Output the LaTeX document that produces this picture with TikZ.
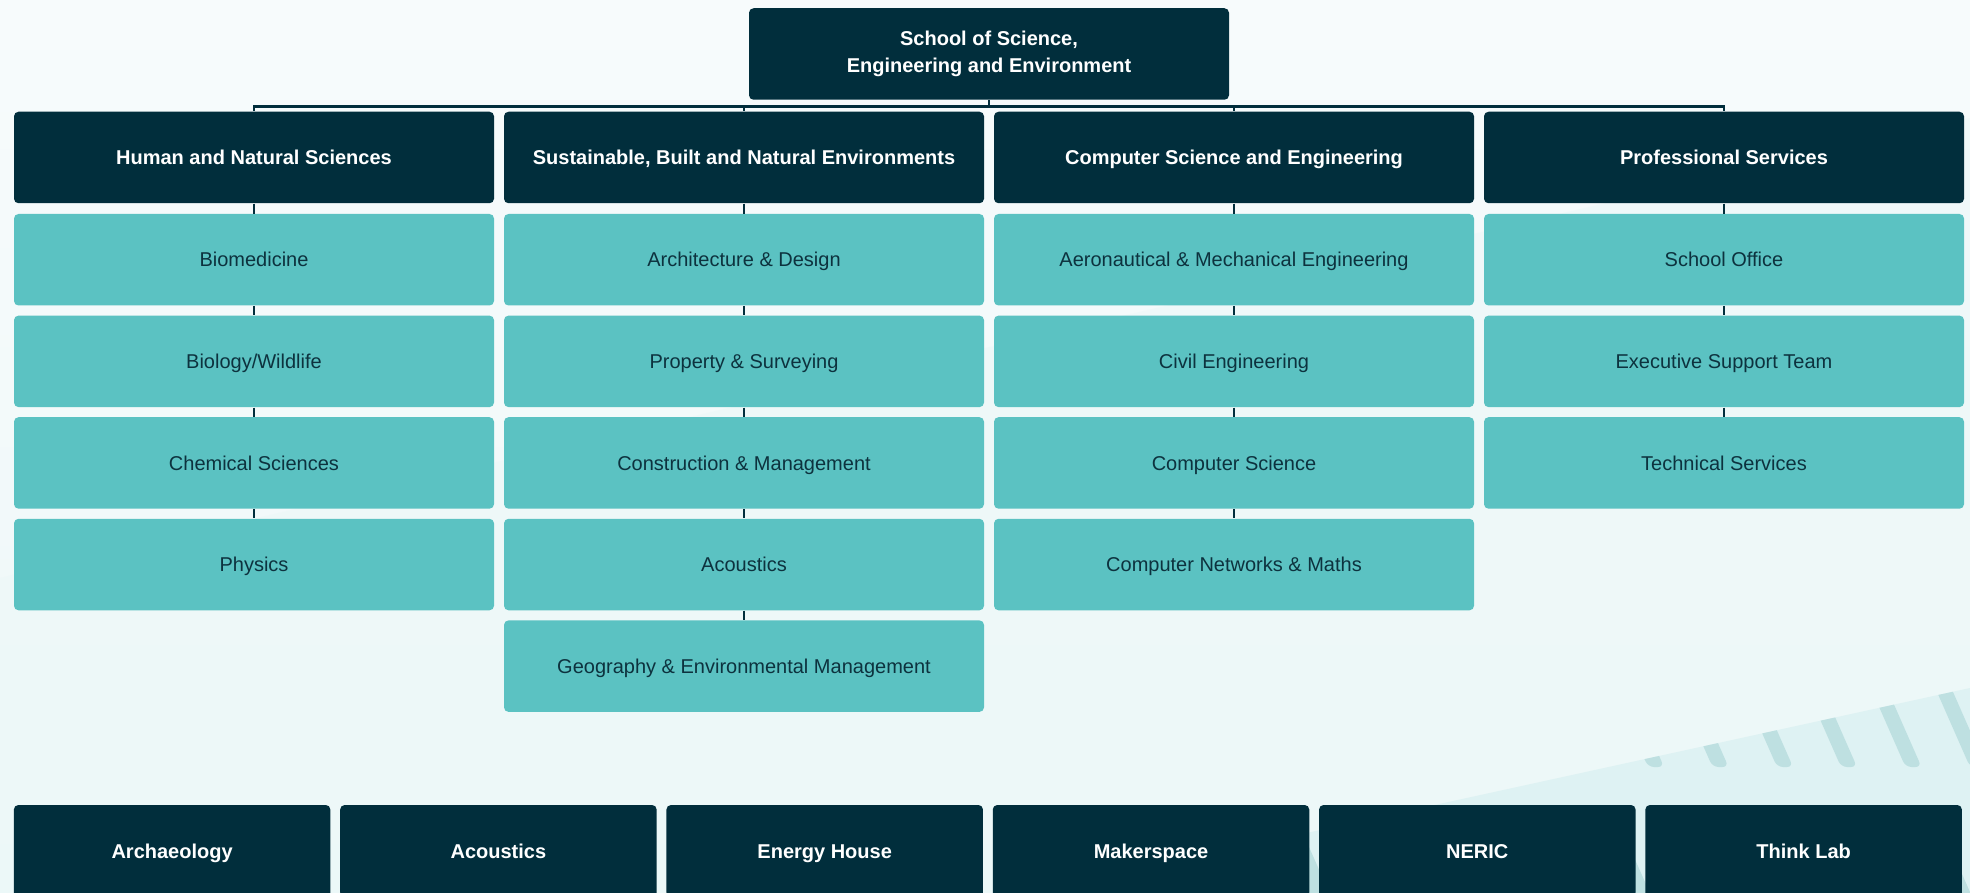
\documentclass[tikz,border=0pt]{standalone}
\usepackage{fontspec}
\setmainfont{Liberation Sans}
\definecolor{navy}{RGB}{1,46,60}
\definecolor{unitteal}{RGB}{91,194,194}
\definecolor{unittext}{RGB}{13,50,62}
\definecolor{bgtop}{RGB}{247,251,252}
\definecolor{bgbot}{RGB}{238,248,248}
\definecolor{bgmid}{RGB}{236,248,248}
\definecolor{band}{RGB}{222,242,243}
\definecolor{stripe}{RGB}{190,224,225}
\newcommand{\orgfont}{\fontsize{10pt}{13.75pt}\selectfont}
\tikzset{
  head/.style={fill=navy, text=white, font=\orgfont\bfseries, rounded corners=2.25pt,
    minimum width=240pt, minimum height=45.75pt, inner sep=0pt, align=center,
    text height=7.2pt, text depth=0pt},
  unit/.style={fill=unitteal, text=unittext, font=\orgfont, rounded corners=2.25pt,
    minimum width=240pt, minimum height=45.75pt, inner sep=0pt,
    text height=7.2pt, text depth=0pt},
  lab/.style={head, minimum width=158.25pt, minimum height=46pt},
  link/.style={draw=navy, line width=1.4pt}
}

\begin{document}
\begin{tikzpicture}[x=0.5pt,y=-0.5pt]
  \useasboundingbox (0,0) rectangle (1970,893);
  % backdrop
  \shade[top color=bgtop, bottom color=bgbot] (0,0) rectangle (1970,893);
  \fill[bgmid, opacity=0.6] (0,578) -- (1970,118) -- (1970,893) -- (0,893) -- cycle;
  \begin{scope}
    \clip (1000,900) -- (1970,688) -- (1970,900) -- cycle;
    \fill[band] (1000,600) rectangle (1970,900);
    \foreach \bx in {1656,1720.5,1785,1849,1913.5,1978}
      \fill[stripe, rounded corners=3pt]
        (\bx-8,767) -- (\bx+8,767) -- (\bx-80,567) -- (\bx-96,567) -- cycle;
  \end{scope}
  \foreach \sx/\sy in {1305/838, 1633/855, 1958/865}
    \fill[stripe, rounded corners=3pt]
      (\sx-70,\sy) -- (\sx,\sy) -- (\sx+31,\sy+70) -- (\sx-39,\sy+70) -- cycle;

  % school and divisions
  \node[head, text height=, text depth=] (school) at (989,54) {School of Science,\\Engineering and Environment};
  \node[head] (hns)  at ( 254,157.5) {Human and Natural Sciences};
  \node[head] (sbne) at ( 744,157.5) {Sustainable, Built and Natural Environments};
  \node[head] (cse)  at (1234,157.5) {Computer Science and Engineering};
  \node[head] (ps)   at (1724,157.5) {Professional Services};

  % departments
  \node[unit] (biomed)    at ( 254,259.75) {Biomedicine};
  \node[unit] (biology)   at ( 254,361.35) {Biology/Wildlife};
  \node[unit] (chem)      at ( 254,462.95) {Chemical Sciences};
  \node[unit] (physics)   at ( 254,564.55) {Physics};

  \node[unit] (archdes)   at ( 744,259.75) {Architecture \& Design};
  \node[unit] (property)  at ( 744,361.35) {Property \& Surveying};
  \node[unit] (construct) at ( 744,462.95) {Construction \& Management};
  \node[unit] (acoust)    at ( 744,564.55) {Acoustics};
  \node[unit] (geog)      at ( 744,666.15) {Geography \& Environmental Management};

  \node[unit] (aero)      at (1234,259.75) {Aeronautical \& Mechanical Engineering};
  \node[unit] (civil)     at (1234,361.35) {Civil Engineering};
  \node[unit] (compsci)   at (1234,462.95) {Computer Science};
  \node[unit] (networks)  at (1234,564.55) {Computer Networks \& Maths};

  \node[unit] (office)    at (1724,259.75) {School Office};
  \node[unit] (exec)      at (1724,361.35) {Executive Support Team};
  \node[unit] (tech)      at (1724,462.95) {Technical Services};

  % labs and centres
  \node[lab] (archaeo) at ( 172.1,851) {Archaeology};
  \node[lab] (acouslab) at ( 498.4,851) {Acoustics};
  \node[lab] (energy)  at ( 824.7,851) {Energy House};
  \node[lab] (maker)   at (1151.0,851) {Makerspace};
  \node[lab] (neric)   at (1477.3,851) {NERIC};
  \node[lab] (think)   at (1803.6,851) {Think Lab};

  % connectors
  \foreach \d in {hns,sbne,cse,ps}
    \draw[link] (school.south) -- ++(0,6.5) -| (\d.north);
  \draw[link] (hns.south) -- (biomed.north) (biomed.south) -- (biology.north)
    (biology.south) -- (chem.north) (chem.south) -- (physics.north);
  \draw[link] (sbne.south) -- (archdes.north) (archdes.south) -- (property.north)
    (property.south) -- (construct.north) (construct.south) -- (acoust.north)
    (acoust.south) -- (geog.north);
  \draw[link] (cse.south) -- (aero.north) (aero.south) -- (civil.north)
    (civil.south) -- (compsci.north) (compsci.south) -- (networks.north);
  \draw[link] (ps.south) -- (office.north) (office.south) -- (exec.north)
    (exec.south) -- (tech.north);
\end{tikzpicture}
\end{document}
